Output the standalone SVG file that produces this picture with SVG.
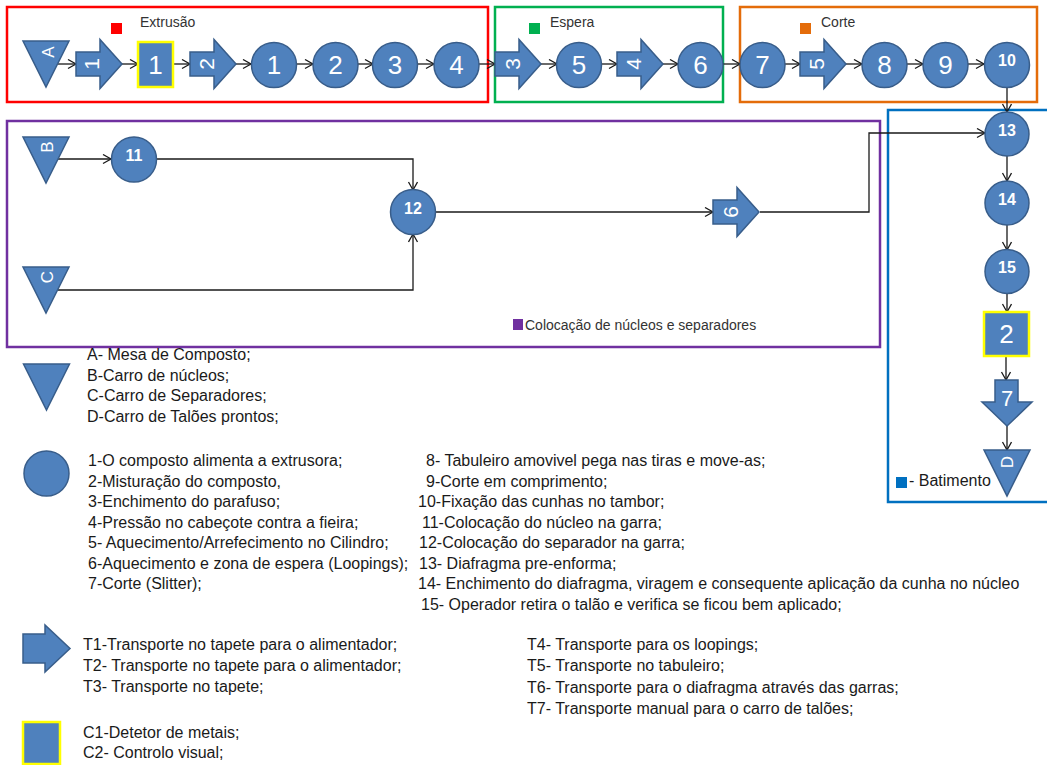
<svg xmlns="http://www.w3.org/2000/svg" width="1047" height="765" viewBox="0 0 1047 765">
<style>
.n{fill:#4F81BD;stroke:#385D8A;stroke-width:1.5}
.c{fill:#4F81BD;stroke:#FFFF00;stroke-width:2.5}
.box{fill:none;stroke-width:2.5}
.w{fill:#fff;font-family:"Liberation Sans",Arial,sans-serif;text-anchor:middle}
.d{font-size:26px}
.r{font-size:21px}
.b{font-size:16px;font-weight:bold}
.t{font-family:"Liberation Sans",Arial,sans-serif;font-size:16px;fill:#1a1a1a}
.h{font-family:"Liberation Sans",Arial,sans-serif;font-size:14px;fill:#333}
.e{fill:none;stroke:#1a1a1a;stroke-width:1.3;marker-end:url(#ah)}
</style>
<defs>
<marker id="ah" markerUnits="userSpaceOnUse" markerWidth="12" markerHeight="12" refX="9" refY="5" orient="auto">
<path d="M1,0.5 L9,5 L1,9.5" fill="none" stroke="#1a1a1a" stroke-width="1.3"/>
</marker>
<path id="arr" d="M0,-12 H24 V-24.5 L46,0 L24,24.5 V12 H0 Z"/>
<path id="tri" d="M-23,0 L23,0 L0,46 Z"/>
</defs>
<rect width="1047" height="765" fill="#fff"/>

<g id="groups">
<rect class="box" x="7" y="7" width="481" height="95" stroke="#FF0000"/>
<rect x="111" y="23" width="11" height="11" fill="#FF0000"/>
<text class="h" x="140" y="27">Extrusão</text>
<rect class="box" x="495" y="7" width="228" height="95" stroke="#00B050"/>
<rect x="529" y="23" width="11" height="11" fill="#00B050"/>
<text class="h" x="550" y="27">Espera</text>
<rect class="box" x="740" y="7" width="297" height="95" stroke="#E46C0A"/>
<rect x="800" y="23" width="11" height="11" fill="#E46C0A"/>
<text class="h" x="821" y="27">Corte</text>
<rect class="box" x="7" y="121" width="873" height="226" stroke="#7030A0"/>
<rect x="513" y="319" width="10" height="11" fill="#7030A0"/>
<text class="h" x="525" y="330">Colocação de núcleos e separadores</text>
<rect class="box" x="888" y="110" width="170" height="392" stroke="#0070C0"/>
<rect x="896" y="477" width="11" height="11" fill="#0070C0"/>
<text class="t" x="909" y="486">- Batimento</text>
</g>

<g id="connectors">
<path class="e" d="M58,64 H76"/>
<path class="e" d="M122,64 H138"/>
<path class="e" d="M173,64 H190"/>
<path class="e" d="M235,64 H251"/>
<path class="e" d="M297,64 H313"/>
<path class="e" d="M358,64 H373"/>
<path class="e" d="M417,64 H434"/>
<path class="e" d="M479,64 H495"/>
<path class="e" d="M541,64 H557"/>
<path class="e" d="M601,64 H617"/>
<path class="e" d="M663,64 H678"/>
<path class="e" d="M723,64 H740"/>
<path class="e" d="M785,64 H800"/>
<path class="e" d="M846,64 H862"/>
<path class="e" d="M907,64 H923"/>
<path class="e" d="M968,64 H984"/>
<path class="e" d="M1007,87 V112"/>
<path class="e" d="M58,159 H111"/>
<path class="e" d="M157,159 H413 V190"/>
<path class="e" d="M58,290 H413 V234"/>
<path class="e" d="M436,212 H713"/>
<path class="e" d="M760,212 H869 V133 H985"/>
<path class="e" d="M1007,156 V181"/>
<path class="e" d="M1007,225 V250"/>
<path class="e" d="M1007,293 V312"/>
<path class="e" d="M1006,356 V380"/>
<path class="e" d="M1007,426 V450"/>
</g>

<g id="nA"><use href="#tri" class="n" x="46" y="41"/><text class="w" font-size="17" transform="translate(48,52) rotate(-90)" dy="0.35em">A</text></g>
<g id="nT1"><use href="#arr" class="n" x="76" y="64"/><text class="w r" transform="translate(92,64) rotate(-90)" dy="0.35em">1</text></g>
<g id="nC1"><rect class="c" x="138" y="42" width="35" height="45"/><text class="w d" x="155.5" y="74">1</text></g>
<g id="nT2"><use href="#arr" class="n" x="190" y="64"/><text class="w r" transform="translate(207,64) rotate(-90)" dy="0.35em">2</text></g>
<g id="n1"><circle class="n" cx="274" cy="65" r="22.5"/><text class="w d" x="274" y="74">1</text></g>
<g id="n2"><circle class="n" cx="335.5" cy="65" r="22.5"/><text class="w d" x="335.5" y="74">2</text></g>
<g id="n3"><circle class="n" cx="395" cy="65" r="22.5"/><text class="w d" x="395" y="74">3</text></g>
<g id="n4"><circle class="n" cx="456.5" cy="65" r="22.5"/><text class="w d" x="456.5" y="74">4</text></g>
<g id="nT3"><use href="#arr" class="n" x="495" y="64"/><text class="w r" transform="translate(513,64) rotate(-90)" dy="0.35em">3</text></g>
<g id="n5"><circle class="n" cx="579" cy="65" r="22.5"/><text class="w d" x="579" y="74">5</text></g>
<g id="nT4"><use href="#arr" class="n" x="617" y="64"/><text class="w r" transform="translate(634,64) rotate(-90)" dy="0.35em">4</text></g>
<g id="n6"><circle class="n" cx="700.5" cy="65" r="22.5"/><text class="w d" x="700.5" y="74">6</text></g>
<g id="n7"><circle class="n" cx="762.5" cy="65" r="22.5"/><text class="w d" x="762.5" y="74">7</text></g>
<g id="nT5"><use href="#arr" class="n" x="800" y="64"/><text class="w r" transform="translate(817,64) rotate(-90)" dy="0.35em">5</text></g>
<g id="n8"><circle class="n" cx="884.5" cy="65" r="22.5"/><text class="w d" x="884.5" y="74">8</text></g>
<g id="n9"><circle class="n" cx="945.5" cy="65" r="22.5"/><text class="w d" x="945.5" y="74">9</text></g>
<g id="n10"><circle class="n" cx="1007" cy="65" r="22.5"/><text class="w b" x="1007" y="66">10</text></g>

<g id="nB"><use href="#tri" class="n" x="46" y="137"/><text class="w" font-size="17" transform="translate(47,147) rotate(-90)" dy="0.35em">B</text></g>
<g id="n11"><circle class="n" cx="134" cy="159.5" r="22.5"/><text class="w b" x="134" y="161">11</text></g>
<g id="nC"><use href="#tri" class="n" x="46" y="267"/><text class="w" font-size="17" transform="translate(47,277) rotate(-90)" dy="0.35em">C</text></g>
<g id="n12"><circle class="n" cx="413" cy="212" r="22.5"/><text class="w b" x="413" y="214">12</text></g>
<g id="nT6"><use href="#arr" class="n" x="713" y="212"/><text class="w r" transform="translate(731,212) rotate(-90)" dy="0.35em">6</text></g>

<g id="n13"><circle class="n" cx="1007" cy="134" r="22"/><text class="w b" x="1007" y="136">13</text></g>
<g id="n14"><circle class="n" cx="1007" cy="203" r="22"/><text class="w b" x="1007" y="205">14</text></g>
<g id="n15"><circle class="n" cx="1007" cy="271.5" r="22"/><text class="w b" x="1007" y="273">15</text></g>
<g id="nC2"><rect class="c" x="984" y="312" width="45" height="44"/><text class="w d" x="1006.5" y="343">2</text></g>
<g id="nT7"><path class="n" d="M995,380 H1018 V402 H1032 L1007,426 L982,402 H995 Z"/><text class="w" font-size="22" x="1007" y="406">7</text></g>
<g id="nD"><use href="#tri" class="n" x="1007" y="450"/><text class="w" font-size="17" transform="translate(1007,462) rotate(-90)" dy="0.35em">D</text></g>

<g id="legend">
<use href="#tri" class="n" x="46.5" y="364"/>
<text class="t" x="87" y="360">A- Mesa de Composto;</text>
<text class="t" x="87" y="380.5">B-Carro de núcleos;</text>
<text class="t" x="87" y="401">C-Carro de Separadores;</text>
<text class="t" x="87" y="421.5">D-Carro de Talões prontos;</text>
<circle class="n" cx="46.5" cy="473.5" r="22.5"/>
<text class="t" x="88" y="466">1-O composto alimenta a extrusora;</text>
<text class="t" x="88" y="486.5">2-Misturação do composto,</text>
<text class="t" x="88" y="507">3-Enchimento do parafuso;</text>
<text class="t" x="88" y="527.5">4-Pressão no cabeçote contra a fieira;</text>
<text class="t" x="88" y="548">5- Aquecimento/Arrefecimento no Cilindro;</text>
<text class="t" x="88" y="568.5">6-Aquecimento e zona de espera (Loopings);</text>
<text class="t" x="88" y="589">7-Corte (Slitter);</text>
<text class="t" x="426" y="466">8- Tabuleiro amovivel pega nas tiras e move-as;</text>
<text class="t" x="426" y="486.5">9-Corte em comprimento;</text>
<text class="t" x="418" y="507">10-Fixação das cunhas no tambor;</text>
<text class="t" x="422" y="527.5">11-Colocação do núcleo na garra;</text>
<text class="t" x="419" y="548">12-Colocação do separador na garra;</text>
<text class="t" x="419" y="568.5">13- Diafragma pre-enforma;</text>
<text class="t" x="418" y="589">14- Enchimento do diafragma, viragem e consequente aplicação da cunha no núcleo</text>
<text class="t" x="421" y="609.5">15- Operador retira o talão e verifica se ficou bem aplicado;</text>
<path class="n" d="M23,634 H45 V625 L70,648.5 L45,672 V663 H23 Z"/>
<text class="t" x="83" y="650">T1-Transporte no tapete para o alimentador;</text>
<text class="t" x="83" y="671">T2- Transporte no tapete para o alimentador;</text>
<text class="t" x="83" y="692">T3- Transporte no tapete;</text>
<text class="t" x="527" y="650">T4- Transporte para os loopings;</text>
<text class="t" x="527" y="671">T5- Transporte no tabuleiro;</text>
<text class="t" x="527" y="692.5">T6- Transporte para o diafragma através das garras;</text>
<text class="t" x="527" y="713.5">T7- Transporte manual para o carro de talões;</text>
<rect class="c" x="23" y="722" width="37" height="42"/>
<text class="t" x="83" y="738">C1-Detetor de metais;</text>
<text class="t" x="83" y="758">C2- Controlo visual;</text>
</g>
</svg>
